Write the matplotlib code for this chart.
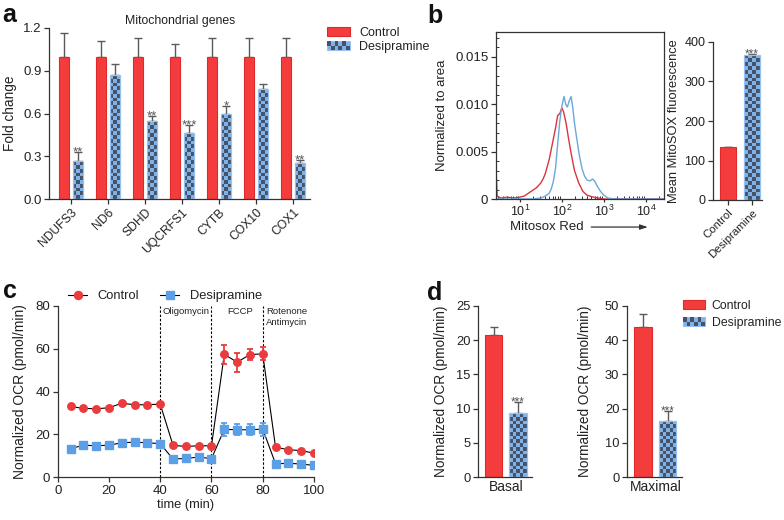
import numpy as np
import matplotlib
matplotlib.use("Agg")
import matplotlib.pyplot as plt
from matplotlib.colors import ListedColormap
from matplotlib.patches import Rectangle, Patch
from matplotlib.lines import Line2D
from matplotlib.legend_handler import HandlerBase
from matplotlib.ticker import MultipleLocator, LogLocator, NullFormatter

plt.rcParams["font.family"] = ["Liberation Sans", "DejaVu Sans"]

RED = "#f43c3c"
RED_EDGE = "#de2a2a"
BLUE = "#80b2ea"
BLUE_EDGE = "#97c2f0"
CHECK = "#465268"
ERR = "#5a5a5a"
AXIS = "#333333"
TEXT = "#222222"
RED_M = "#ea3b3e"
BLUE_M = "#5c9fe6"

# a: mitochondrial gene expression (fold change)
genes = ["NDUFS3", "ND6", "SDHD", "UQCRFS1", "CYTB", "COX10", "COX1"]
ctrl_fold = [1.0, 1.0, 1.0, 1.0, 1.0, 1.0, 1.0]
ctrl_fold_err = [0.165, 0.11, 0.13, 0.09, 0.13, 0.13, 0.13]
desi_fold = [0.265, 0.87, 0.545, 0.465, 0.595, 0.77, 0.25]
desi_fold_err = [0.065, 0.075, 0.035, 0.055, 0.06, 0.04, 0.025]
fold_stars = ["**", "", "**", "***", "*", "", "**"]

# b: MitoSOX histogram (log10 intensity, density)
ctrl_hist_log = [0.43, 0.46, 0.55, 0.7, 0.85, 1.0, 1.1, 1.2, 1.3, 1.4, 1.5, 1.55, 1.6, 1.7,
                 1.8, 1.85, 1.9, 1.95, 2.0, 2.04, 2.1, 2.15, 2.22, 2.3, 2.4, 2.5, 2.6,
                 2.75, 3.0, 4.43]
ctrl_hist = [0.0035, 0.0003, 0.0001, 0.0002, 0.0001, 0.0002, 0.0003, 0.0006, 0.0009,
             0.0012, 0.0017, 0.0021, 0.0026, 0.0042, 0.0064, 0.0075, 0.0088, 0.0090,
             0.0096, 0.0092, 0.0080, 0.0066, 0.0048, 0.0030, 0.0017, 0.0008, 0.0004,
             0.0002, 0.0, 0.0]
desi_hist_log = [0.43, 1.3, 1.5, 1.6, 1.7, 1.75, 1.8, 1.85, 1.9, 1.95, 2.0, 2.05, 2.09,
                 2.13, 2.18, 2.22, 2.26, 2.3, 2.36, 2.42, 2.48, 2.54, 2.6, 2.67, 2.73,
                 2.78, 2.85, 2.92, 3.0, 3.1, 3.25, 4.43]
desi_hist = [0.0, 0.0, 0.0001, 0.0003, 0.0006, 0.0011, 0.0019, 0.0033, 0.0058, 0.0082,
             0.0098, 0.0108, 0.0100, 0.0097, 0.0104, 0.0108, 0.0096, 0.0080, 0.0062,
             0.0045, 0.0032, 0.0024, 0.0020, 0.0019, 0.0021, 0.0019, 0.0013, 0.0008,
             0.0004, 0.0001, 0.0, 0.0]

# b: mean MitoSOX fluorescence
groups = ["Control", "Desipramine"]
mitosox_mean = [133, 368]
mitosox_err = [1.5, 2.5]
mitosox_stars = ["", "***"]

# c: Seahorse OCR trace
time_min = [5, 10, 15, 20, 25, 30, 35, 40, 45, 50, 55, 60, 65, 70, 75, 80, 85, 90, 95, 100]
ctrl_ocr = [33.0, 32.1, 31.9, 32.4, 34.5, 33.8, 33.8, 34.1, 14.8, 14.3, 14.6, 14.6,
            57.4, 53.7, 57.3, 57.6, 13.9, 12.8, 12.3, 11.2]
ctrl_ocr_err = [0, 0, 0, 0, 0, 0, 0, 0, 0, 0, 0, 0, 4.5, 4.5, 2.5, 3.0, 0, 0, 0, 0]
desi_ocr = [13.2, 14.9, 14.6, 14.9, 16.0, 16.3, 16.0, 15.6, 8.4, 8.7, 9.3, 8.6,
            22.3, 22.1, 22.1, 22.4, 6.2, 6.4, 6.1, 5.4]
desi_ocr_err = [0, 0, 0, 0, 0, 0, 0, 0, 0, 0, 0, 0, 3.0, 2.5, 2.5, 3.0, 0, 0, 0, 0]
injections = [40, 60, 80]

# d: basal / maximal respiration
basal = [20.7, 9.35]
basal_err = [1.3, 1.65]
maximal = [44.0, 16.5]
maximal_err = [3.6, 2.7]
resp_stars = ["", "***"]


def frac(left, top, right, bottom, w=784, h=520):
    return [left / w, 1 - bottom / h, (right - left) / w, (bottom - top) / h]


def style(ax, spines=("left", "bottom")):
    for name, sp in ax.spines.items():
        sp.set_visible(name in spines)
        sp.set_color(AXIS)
        sp.set_linewidth(0.9)
    ax.tick_params(direction="out", length=3.5, width=0.9, color=AXIS,
                   labelcolor=TEXT, labelsize=9, pad=2)


def checker(ax, bars, cell=3.8):
    cmap = ListedColormap([BLUE, CHECK])
    for bar in bars:
        x0, w, h = bar.get_x(), bar.get_width(), bar.get_height()
        (px0, py0), (px1, py1) = ax.transData.transform([(x0, 0), (x0 + w, h)])
        nx = max(1, round((px1 - px0) / cell))
        ny = max(1, round((py1 - py0) / cell))
        cells = np.indices((ny, nx)).sum(axis=0) % 2
        ax.pcolormesh(np.linspace(x0, x0 + w, nx + 1), np.linspace(0, h, ny + 1), cells,
                      cmap=cmap, vmin=0, vmax=1, zorder=2)


class CheckerHandler(HandlerBase):
    def create_artists(self, legend, handle, xd, yd, width, height, fontsize, trans):
        out = [Rectangle((-xd, -yd), width, height, facecolor=BLUE, edgecolor=BLUE_EDGE,
                         lw=0.8, transform=trans)]
        nx, ny = 6, 2
        cw, ch = width / nx, height / ny
        for i in range(nx):
            for j in range(ny):
                if (i + j) % 2:
                    out.append(Rectangle((-xd + i * cw, -yd + j * ch), cw, ch,
                                         facecolor=CHECK, lw=0, transform=trans))
        return out


def bar_pair(ax, xs, vals, errs, width):
    ax.bar(xs[0], vals[0], width, color=RED, edgecolor=RED_EDGE, lw=0.8, zorder=2)
    d = ax.bar(xs[1], vals[1], width, facecolor="none", edgecolor=BLUE_EDGE, lw=0.9, zorder=3)
    checker(ax, d)
    ax.errorbar(xs, vals, yerr=[np.zeros(len(vals)), errs], fmt="none", ecolor=ERR,
                elinewidth=1, capsize=3, capthick=1, zorder=1)


def stars(ax, xs, tops, marks, size=9.5):
    for x, t, s in zip(xs, tops, marks):
        if s:
            ax.annotate(s, (x, t), xytext=(0, -2.5), textcoords="offset points",
                        ha="center", va="baseline", fontsize=size, color="#555555")


def legend_patches(loc_xy, fontsize, spacing, textpad):
    desi = Patch(facecolor=BLUE)
    fig.legend([Patch(facecolor=RED, edgecolor=RED_EDGE, lw=0.8), desi],
               ["Control", "Desipramine"], handler_map={desi: CheckerHandler()},
               loc="upper left", bbox_to_anchor=loc_xy, frameon=False, borderpad=0,
               borderaxespad=0, handlelength=1.8, handleheight=0.75,
               handletextpad=textpad, labelspacing=spacing, fontsize=fontsize,
               labelcolor=TEXT)


fig = plt.figure(figsize=(7.84, 5.2), dpi=100)

# ---- a
ax = fig.add_axes(frac(49.5, 28, 310, 199))
style(ax)
x = np.arange(len(genes))
ax.set_xlim(-0.58, 6.46)
ax.set_ylim(0, 1.2)
ax.bar(x - 0.19, ctrl_fold, 0.26, color=RED, edgecolor=RED_EDGE, lw=0.8, zorder=2)
dbars = ax.bar(x + 0.19, desi_fold, 0.26, facecolor="none", edgecolor=BLUE_EDGE, lw=0.9, zorder=3)
checker(ax, dbars)
ax.errorbar(x - 0.19, ctrl_fold, yerr=[np.zeros(len(x)), ctrl_fold_err], fmt="none",
            ecolor=ERR, elinewidth=1, capsize=3, capthick=1, zorder=1)
ax.errorbar(x + 0.19, desi_fold, yerr=[np.zeros(len(x)), desi_fold_err], fmt="none",
            ecolor=ERR, elinewidth=1, capsize=3, capthick=1, zorder=1)
stars(ax, x + 0.19, np.add(desi_fold, desi_fold_err), fold_stars)
ax.set_yticks([0, 0.3, 0.6, 0.9, 1.2], ["0.0", "0.3", "0.6", "0.9", "1.2"])
ax.tick_params(axis="y", labelsize=9.5)
ax.set_xticks(x, genes, rotation=45, ha="right", rotation_mode="anchor", fontsize=8.7)
ax.set_ylabel("Fold change", fontsize=9.8, color=TEXT)
ax.yaxis.set_label_coords(-0.125, 0.5)
ax.text(0.5, 1.043, "Mitochondrial genes", transform=ax.transAxes, ha="center",
        va="center", fontsize=8.8, color=TEXT)
legend_patches((327 / 784, 1 - 27 / 520), 9, 0.15, 0.75)

# ---- b histogram
axh = fig.add_axes(frac(496, 32, 664, 199))
style(axh, spines=("left", "bottom", "top", "right"))
axh.plot(10 ** np.array(ctrl_hist_log), ctrl_hist, color="#d8353f", lw=1)
axh.plot(10 ** np.array(desi_hist_log), desi_hist, color="#6aa8dc", lw=1)
axh.set_xscale("log")
axh.set_xlim(2.7, 27000)
axh.set_ylim(0, 0.0176)
axh.set_yticks([0, 0.005, 0.010, 0.015], ["0", "0.005", "0.010", "0.015"])
axh.yaxis.set_minor_locator(MultipleLocator(0.001))
axh.set_xticks([10, 100, 1000, 10000],
               [r"$\mathregular{10^{%d}}$" % k for k in range(1, 5)])
axh.xaxis.set_minor_locator(LogLocator(base=10, subs=np.arange(2, 10)))
axh.xaxis.set_minor_formatter(NullFormatter())
axh.tick_params(axis="both", which="both", top=False, right=False)
axh.tick_params(axis="y", labelsize=9.5)
axh.tick_params(axis="x", length=2.5, pad=1, labelsize=9)
axh.tick_params(which="minor", direction="in", length=2.2, width=0.7, color=AXIS)
axh.set_ylabel("Normalized to area", fontsize=9.5, color=TEXT)
axh.yaxis.set_label_coords(-0.285, 0.5)
axh.text(0.30, -0.168, "Mitosox Red", transform=axh.transAxes, ha="center",
         va="center", fontsize=9.5, color=TEXT)
axh.annotate("", xy=(0.92, -0.168), xytext=(0.55, -0.168), xycoords="axes fraction",
             arrowprops=dict(arrowstyle="-|>,head_length=0.45,head_width=0.15",
                             color=AXIS, lw=0.9))

# ---- b mean fluorescence
axm = fig.add_axes(frac(713, 42, 762, 200))
style(axm)
axm.set_xlim(-0.625, 1.42)
axm.set_ylim(0, 400)
bar_pair(axm, [0, 1], mitosox_mean, mitosox_err, 0.7)
stars(axm, [0, 1], np.add(mitosox_mean, mitosox_err), mitosox_stars, size=8.5)
axm.set_yticks([0, 100, 200, 300, 400])
axm.set_xticks([0, 1], groups, rotation=45, ha="right", rotation_mode="anchor", fontsize=8.2)
axm.set_ylabel("Mean MitoSOX fluorescence", fontsize=9.3, color=TEXT)
axm.yaxis.set_label_coords(-0.67, 0.5)

# ---- c
axc = fig.add_axes(frac(57.7, 306, 314, 477))
style(axc)
axc.tick_params(labelsize=9.5)
axc.set_xlim(0, 100)
axc.set_ylim(0, 80)
axc.vlines(injections, 0, 80, colors="k", linestyles=(0, (2.2, 1.6)), lw=0.8, zorder=1)
for vals, errs, col, mk, ms in [(ctrl_ocr, ctrl_ocr_err, RED_M, "o", 5.4),
                                (desi_ocr, desi_ocr_err, BLUE_M, "s", 5.4)]:
    axc.plot(time_min, vals, color="k", lw=0.8, zorder=2)
    axc.errorbar(time_min, vals, yerr=errs, fmt=mk, color=col, ms=ms, capsize=2.5,
                 elinewidth=1.3, capthick=1.3, zorder=3)
axc.set_xticks([0, 20, 40, 60, 80, 100])
axc.set_yticks([0, 20, 40, 60, 80])
axc.set_xlabel("time (min)", fontsize=9.3, color=TEXT, labelpad=2)
axc.set_ylabel("Normalized OCR (pmol/min)", fontsize=10, color=TEXT)
axc.yaxis.set_label_coords(-0.12, 0.5)
ann = dict(fontsize=6.8, color=TEXT, va="center")
axc.text(41, 77.3, "Oligomycin", **ann)
axc.text(71, 77.3, "FCCP", ha="center", **ann)
axc.text(81.2, 77.3, "Rotenone", **ann)
axc.text(81.2, 72.3, "Antimycin", **ann)
fig.legend([Line2D([], [], color="k", lw=0.8, marker="o", mfc=RED_M, mec=RED_M, ms=5.8),
            Line2D([], [], color="k", lw=0.8, marker="s", mfc=BLUE_M, mec=BLUE_M, ms=5.8)],
           ["Control", "Desipramine"], loc="center left",
           bbox_to_anchor=(68 / 784, 1 - 296 / 520), frameon=False, ncol=2,
           borderpad=0, borderaxespad=0, handlelength=1.5, handletextpad=0.8,
           columnspacing=1.6, fontsize=9.3, labelcolor=TEXT)

# ---- d
for rect, vals, errs, label, top, step, lab_x in [
        (frac(478, 306, 532, 477), basal, basal_err, "Basal", 25, 5, -0.56),
        (frac(627, 306, 682, 477), maximal, maximal_err, "Maximal", 50, 10, -0.64)]:
    axd = fig.add_axes(rect)
    style(axd)
    axd.tick_params(labelsize=9.3)
    axd.set_xlim(-0.66, 1.58)
    axd.set_ylim(0, top)
    bar_pair(axd, [0, 1], vals, errs, 0.71)
    stars(axd, [0, 1], np.add(vals, errs), resp_stars, size=8.5)
    axd.set_yticks(np.arange(0, top + 1, step))
    axd.set_xticks([0.5], [label], fontsize=10)
    axd.tick_params(axis="x", length=0, pad=2)
    axd.set_ylabel("Normalized OCR (pmol/min)", fontsize=9.8, color=TEXT)
    axd.yaxis.set_label_coords(lab_x, 0.5)
legend_patches((683 / 784, 1 - 300 / 520), 8.8, 0.4, 0.55)

# panel letters
for lx, ly, letter in [(2, 22, "a"), (427, 23, "b"), (3, 298, "c"), (427, 300, "d")]:
    fig.text(lx / 784, 1 - ly / 520, letter, fontsize=18, fontweight="bold",
             va="baseline", color="#111111")

fig.savefig("out.png", dpi=100)
